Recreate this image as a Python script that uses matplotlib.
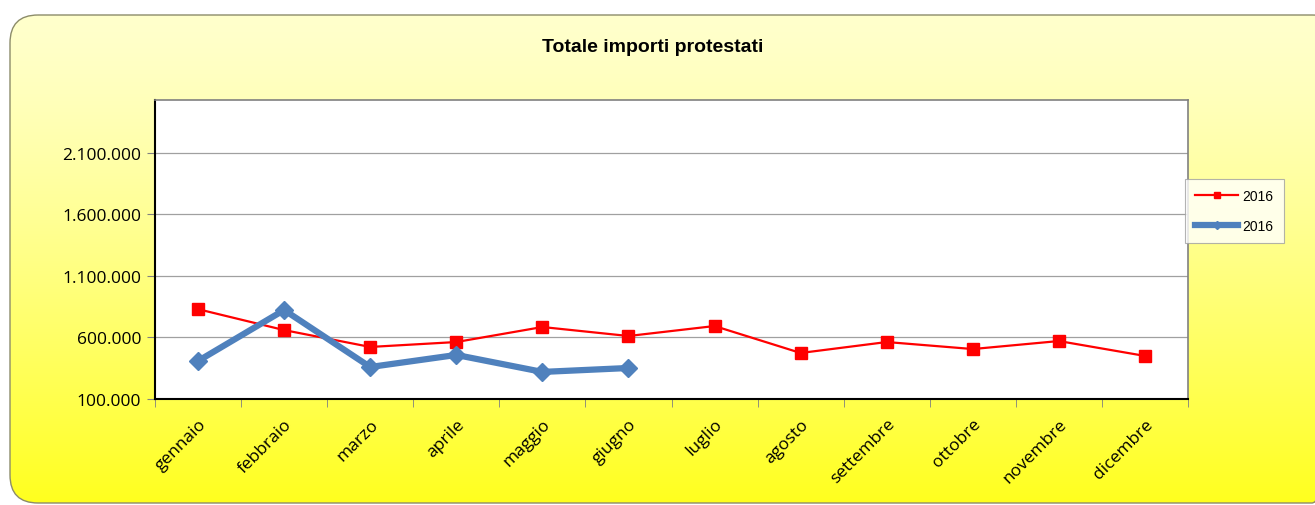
import numpy as np
import matplotlib
matplotlib.use('Agg')
import matplotlib.pyplot as plt
from matplotlib.patches import FancyBboxPatch
from matplotlib.ticker import FuncFormatter

# dati
mesi = ['gennaio', 'febbraio', 'marzo', 'aprile', 'maggio', 'giugno',
        'luglio', 'agosto', 'settembre', 'ottobre', 'novembre', 'dicembre']
serie_rossa = [830000, 660000, 523000, 563000, 685000, 612000,
               693000, 474000, 563000, 506000, 571000, 450000]
serie_blu = [409000, 823000, 360000, 458000, 320000, 352000]
etichetta_rossa = '2016'
etichetta_blu = '2016'
yticks = [100000, 600000, 1100000, 1600000, 2100000]

fig = plt.figure(figsize=(13.15, 5.06), dpi=100)

# sfondo con gradiente giallo e angoli arrotondati
bg = fig.add_axes([0, 0, 1, 1])
bg.set_xlim(0, 1315)
bg.set_ylim(506, 0)
bg.axis('off')
grad = np.linspace(0, 1, 256).reshape(-1, 1)
top_col = np.array([1.0, 1.0, 0.80])
bot_col = np.array([1.0, 1.0, 0.12])
img = top_col + (bot_col - top_col) * grad[..., None] ** 1.3
img = np.repeat(img, 2, axis=1)
box = FancyBboxPatch((10, 16), 1330, 488, boxstyle='round,pad=0,rounding_size=28',
                     facecolor='none', edgecolor='#8c8c6a', linewidth=1.0)
bg.add_patch(box)
im = bg.imshow(img, extent=[10, 1340, 504, 16], aspect='auto', zorder=0)
im.set_clip_path(box)

fig.text(0.496, 1 - 48 / 506, 'Totale importi protestati', ha='center', va='center',
         fontsize=14, fontweight='bold', family='Liberation Sans')

ax = fig.add_axes([155 / 1315, 1 - 400 / 506, (1188 - 155) / 1315, (400 - 101) / 506])
ax.set_facecolor('white')
x = np.arange(len(mesi))
ax.plot(x, serie_rossa, color='#ff0000', linewidth=1.6, marker='s', markersize=9,
        label=etichetta_rossa, zorder=3)
ax.plot(x[:len(serie_blu)], serie_blu, color='#4f81bd', linewidth=4.5, marker='D',
        markersize=9, label=etichetta_blu, zorder=4)

ax.set_xlim(-0.5, len(mesi) - 0.5)
ax.set_ylim(100000, 2530000)
ax.set_yticks(yticks)
ax.yaxis.set_major_formatter(FuncFormatter(lambda v, p: f'{int(v):,}'.replace(',', '.')))
ax.grid(axis='y', color='#a0a0a0', linewidth=0.9)
ax.set_axisbelow(True)
ax.set_xticks(x)
ax.set_xticklabels(mesi, rotation=45, ha='right', rotation_mode='anchor', fontsize=12.5,
                   family='Open Sans')
ax.set_xticks(np.arange(-0.5, len(mesi)), minor=True)
ax.tick_params(axis='x', which='major', length=0, pad=12)
ax.tick_params(axis='x', which='minor', length=6, color='#808080', direction='out')
ax.tick_params(axis='y', length=6, color='#808080', labelsize=12.5, pad=4)
for lab in ax.get_yticklabels():
    lab.set_family('Open Sans')
for s in ['left', 'bottom']:
    ax.spines[s].set_color('black')
    ax.spines[s].set_linewidth(1.5)
for s in ['top', 'right']:
    ax.spines[s].set_color('#808080')
    ax.spines[s].set_linewidth(1.2)

leg = ax.legend(loc='upper left', bbox_to_anchor=(1030 / 1033, 0.736), frameon=True,
                fancybox=False, edgecolor='#a0a0a0', prop={'family': 'Liberation Sans', 'size': 10},
                handlelength=3.1, markerscale=0.5, borderpad=0.75, labelspacing=1.1,
                handletextpad=0.3, borderaxespad=0)
leg.get_frame().set_linewidth(0.8)

fig.savefig('out.png', dpi=100)
